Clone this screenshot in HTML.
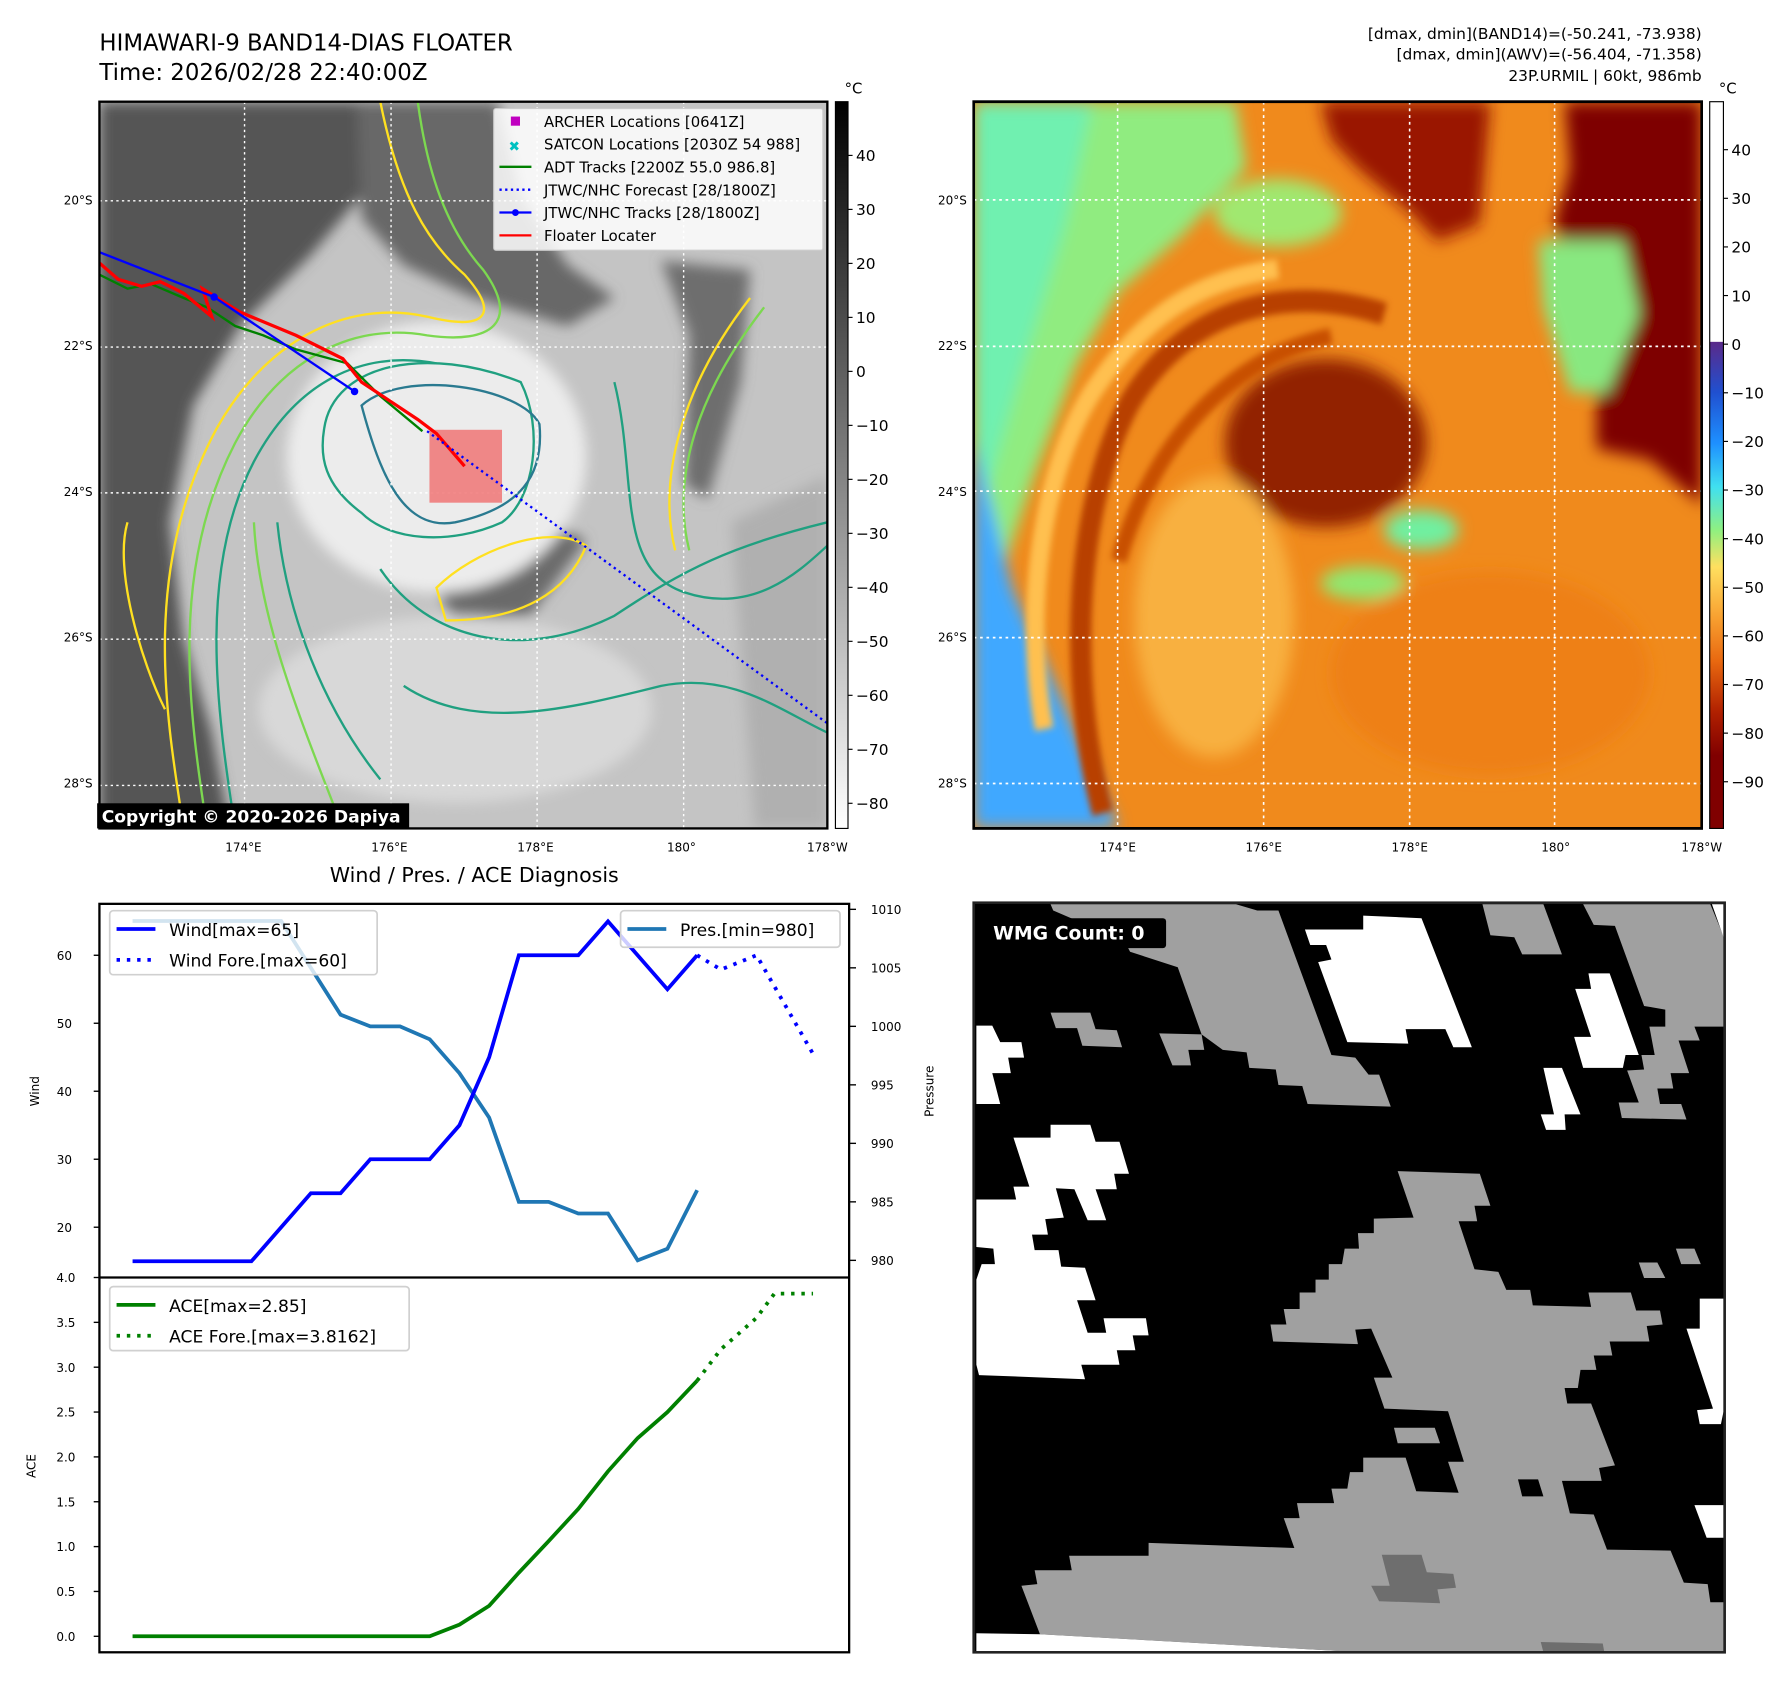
<!DOCTYPE html>
<html><head><meta charset="utf-8"><style>
html,body{margin:0;padding:0;background:#fff;}
svg{display:block;font-family:"DejaVu Sans","Liberation Sans",sans-serif;}
</style></head><body>
<svg id="root" width="1792" height="1690" viewBox="0 0 1568 1479" preserveAspectRatio="none" xmlns="http://www.w3.org/2000/svg">
<defs>
<filter id="b8" x="-20%" y="-20%" width="140%" height="140%"><feGaussianBlur stdDeviation="14"/></filter>
<filter id="b4" x="-20%" y="-20%" width="140%" height="140%"><feGaussianBlur stdDeviation="6"/></filter>
<clipPath id="c1"><rect x="0" y="0" width="1555" height="1555"/></clipPath>
<clipPath id="c2"><rect x="27" y="182" width="1371" height="1295"/></clipPath>
<linearGradient id="gcb1" x1="0" y1="0" x2="0" y2="1"><stop offset="0" stop-color="#000"/><stop offset="1" stop-color="#fff"/></linearGradient>
<linearGradient id="gcb2" x1="0" y1="0" x2="0" y2="1">
<stop offset="0" stop-color="#fff"/><stop offset="0.33" stop-color="#fff"/>
<stop offset="0.331" stop-color="#5a2a8a"/><stop offset="0.40" stop-color="#2050d0"/><stop offset="0.47" stop-color="#1e90ff"/><stop offset="0.53" stop-color="#40e0f0"/><stop offset="0.59" stop-color="#90f080"/><stop offset="0.64" stop-color="#ffe060"/><stop offset="0.71" stop-color="#f8a030"/><stop offset="0.77" stop-color="#e86810"/><stop offset="0.84" stop-color="#b02000"/><stop offset="0.90" stop-color="#800000"/><stop offset="1" stop-color="#800000"/>
</linearGradient>
</defs>

<!-- titles -->
<text x="87" y="44" font-size="20">HIMAWARI-9 BAND14-DIAS FLOATER</text>
<text x="87" y="70" font-size="20">Time: 2026/02/28 22:40:00Z</text>
<g font-size="13.5" text-anchor="end">
<text x="1489" y="34">[dmax, dmin](BAND14)=(-50.241, -73.938)</text>
<text x="1489" y="52">[dmax, dmin](AWV)=(-56.404, -71.358)</text>
<text x="1489" y="71">23P.URMIL | 60kt, 986mb</text>
</g>

<!-- MAP 1 -->
<g transform="translate(87,89) scale(0.4096,0.409)">
<g clip-path="url(#c1)">
<rect x="0" y="0" width="1555" height="1555" fill="#c4c4c4"/>
<g filter="url(#b8)">
<polygon points="0,0 550,0 560,200 450,330 300,480 200,650 150,900 180,1150 240,1350 280,1555 0,1555" fill="#555"/>
<polygon points="550,0 850,0 900,200 1000,350 1100,420 1000,480 800,420 650,350 560,250" fill="#676767"/>
<polygon points="1200,340 1390,360 1370,600 1300,850 1250,820 1260,500" fill="#6e6e6e"/>
<polygon points="720,1040 880,1000 960,900 1040,940 920,1100 760,1110" fill="#6a6a6a"/>
<ellipse cx="720" cy="760" rx="320" ry="290" fill="#ececec"/>
<ellipse cx="760" cy="1300" rx="420" ry="200" fill="#d8d8d8"/>
<polygon points="1350,900 1555,800 1555,1555 1400,1555" fill="#b0b0b0"/>
</g>
<g fill="none" stroke-width="5">
<path d="M180,1555 C140,1300 90,1000 250,700 C350,520 520,420 700,460 C820,490 860,460 780,370 C700,300 640,200 600,0" stroke="#ffe020"/>
<path d="M230,1555 C190,1300 150,1000 290,730 C380,560 530,470 700,500 C840,520 900,470 820,360 C740,270 700,150 680,0" stroke="#7cd850"/>
<path d="M290,1555 C250,1300 210,1000 330,770 C420,600 560,530 720,560" stroke="#20a080"/>
<path d="M1230,960 C1190,800 1250,600 1390,420" stroke="#ffe020"/>
<path d="M1260,960 C1220,800 1280,620 1420,440" stroke="#7cd850"/>
<path d="M480,700 C500,560 700,520 900,600 C950,700 930,850 860,900 C750,950 620,940 560,880 C480,820 470,760 480,700 Z" stroke="#20a080"/>
<path d="M560,650 C650,570 900,610 940,690 C950,800 900,870 760,900 C650,920 600,800 560,650 Z" stroke="#2a7a90"/>
<path d="M720,1040 C800,960 960,900 1040,950 C1000,1050 900,1110 740,1110 Z" stroke="#ffe020"/>
<path d="M600,1000 C700,1150 900,1200 1100,1100 C1250,1000 1350,950 1555,900" stroke="#20a080"/>
<path d="M650,1250 C800,1350 1000,1300 1200,1250 C1350,1220 1450,1300 1555,1350" stroke="#20a080"/>
<path d="M380,900 C400,1100 480,1300 600,1450" stroke="#20a080"/>
<path d="M330,900 C340,1100 420,1300 520,1555" stroke="#7cd850"/>
<path d="M1100,600 C1150,800 1100,1000 1250,1050 C1400,1100 1500,1000 1555,950" stroke="#20a080"/>
<path d="M60,900 C30,1000 90,1200 140,1300" stroke="#ffe020"/>
</g>
<g stroke="#fff" stroke-width="3" stroke-dasharray="5,7" fill="none">
<line x1="0" y1="212" x2="1555" y2="212"/><line x1="0" y1="525" x2="1555" y2="525"/><line x1="0" y1="837" x2="1555" y2="837"/><line x1="0" y1="1150" x2="1555" y2="1150"/><line x1="0" y1="1463" x2="1555" y2="1463"/>
<line x1="310" y1="0" x2="310" y2="1555"/><line x1="623" y1="0" x2="623" y2="1555"/><line x1="935" y1="0" x2="935" y2="1555"/><line x1="1248" y1="0" x2="1248" y2="1555"/>
</g>
<rect x="705" y="702" width="155" height="156" fill="rgba(240,110,110,0.8)"/>
<polyline points="0,370 60,400 110,390 180,420 230,440 290,480 350,500 420,530 530,560 600,630 690,705" fill="none" stroke="#008000" stroke-width="5"/>
<polyline points="0,345 40,380 90,395 130,385 180,410 240,460 220,400 300,450 420,500 520,550 560,600 620,640 680,680 720,710 780,780" fill="none" stroke="#ff0000" stroke-width="7"/>
<polyline points="0,322 245,418 545,620" fill="none" stroke="#0000ff" stroke-width="5"/>
<circle cx="245" cy="418" r="8" fill="#00f"/><circle cx="545" cy="620" r="8" fill="#00f"/>
<line x1="700" y1="705" x2="1555" y2="1330" stroke="#0000ff" stroke-width="5" stroke-dasharray="5,8"/>
</g>
<rect x="0" y="0" width="1555" height="1555" fill="none" stroke="#000" stroke-width="5"/>
</g>
<g>
<rect x="432" y="95" width="288" height="124" fill="rgba(255,255,255,0.85)" stroke="#ccc" rx="2"/>
<g font-size="13">
<rect x="447" y="102" width="8" height="8" fill="#c000c0"/><text x="476" y="111">ARCHER Locations [0641Z]</text>
<text x="445" y="132" fill="#00c0c0" font-size="12">✖</text><text x="476" y="131">SATCON Locations [2030Z 54 988]</text>
<line x1="437" y1="146" x2="465" y2="146" stroke="#008000" stroke-width="2"/><text x="476" y="151">ADT Tracks [2200Z 55.0 986.8]</text>
<line x1="437" y1="166" x2="465" y2="166" stroke="#00f" stroke-width="2" stroke-dasharray="2,3"/><text x="476" y="171">JTWC/NHC Forecast [28/1800Z]</text>
<line x1="437" y1="186" x2="465" y2="186" stroke="#00f" stroke-width="2"/><circle cx="451" cy="186" r="3" fill="#00f"/><text x="476" y="191">JTWC/NHC Tracks [28/1800Z]</text>
<line x1="437" y1="206" x2="465" y2="206" stroke="#f00" stroke-width="2"/><text x="476" y="211">Floater Locater</text>
</g></g>
<rect x="85" y="703" width="273" height="22" fill="#000"/>
<text x="89" y="720" font-size="15" font-weight="bold" fill="#fff">Copyright © 2020-2026 Dapiya</text>

<!-- colorbar 1 -->
<rect x="731" y="89" width="11" height="636" fill="url(#gcb1)" stroke="#000" stroke-width="1"/>
<text x="739" y="82" font-size="13">°C</text>
<g id="cb1ticks" font-size="13.5"></g>
<!-- colorbar 2 -->
<rect x="1496" y="89" width="12" height="636" fill="url(#gcb2)" stroke="#000" stroke-width="1"/>
<text x="1504" y="82" font-size="13">°C</text>
<g id="cb2ticks" font-size="13.5"></g>

<!-- MAP 2 -->
<g transform="translate(852,89) scale(0.4646,0.4911) translate(-27,-182)">
<g clip-path="url(#c2)">
<rect x="27" y="182" width="1371" height="1295" fill="#f08a1c"/>
<g filter="url(#b8)">
<polygon points="27,182 520,182 540,300 420,420 300,520 220,650 140,850 70,1050 27,1100" fill="#90ec80"/>
<polygon points="27,182 250,182 200,400 120,650 60,850 27,900" fill="#70f0b0"/>
<polygon points="27,780 60,900 100,1050 170,1200 240,1350 300,1477 27,1477" fill="#40a8ff"/>
<polygon points="1140,182 1398,182 1398,900 1300,820 1200,800 1200,700 1260,600 1180,520 1120,400 1150,300" fill="#7e0000"/>
<polygon points="680,182 1000,182 980,400 900,430 850,380 750,300 700,250" fill="#9a1800"/>
<polygon points="1090,430 1250,430 1280,560 1220,700 1150,700 1100,550" fill="#88e880"/>
<ellipse cx="690" cy="790" rx="190" ry="150" fill="#922000"/>
<ellipse cx="870" cy="945" rx="70" ry="35" fill="#70f0a0"/>
<ellipse cx="760" cy="1040" rx="80" ry="30" fill="#90e870"/>
<ellipse cx="600" cy="380" rx="120" ry="60" fill="#a0e870"/>
<ellipse cx="480" cy="1100" rx="150" ry="250" fill="#f8b040"/>
<ellipse cx="1000" cy="1200" rx="300" ry="180" fill="#ee8018"/>
</g>
<g fill="none" filter="url(#b4)">
<path d="M270,1450 C200,1200 220,900 320,720 C420,560 600,500 800,560" stroke="#b84000" stroke-width="40"/>
<path d="M160,1300 C120,1100 150,850 250,700 C350,560 450,500 600,480" stroke="#ffc050" stroke-width="35"/>
<path d="M300,1000 C360,800 500,640 700,600" stroke="#c85000" stroke-width="30"/>
</g>
</g>
<g stroke="#fff" stroke-width="3" stroke-dasharray="5,7" fill="none">
<line x1="27" y1="357" x2="1398" y2="357"/><line x1="27" y1="618" x2="1398" y2="618"/><line x1="27" y1="876" x2="1398" y2="876"/><line x1="27" y1="1137" x2="1398" y2="1137"/><line x1="27" y1="1397" x2="1398" y2="1397"/>
<line x1="298" y1="182" x2="298" y2="1477"/><line x1="573" y1="182" x2="573" y2="1477"/><line x1="848" y1="182" x2="848" y2="1477"/><line x1="1121" y1="182" x2="1121" y2="1477"/>
</g>
<rect x="27" y="182" width="1371" height="1295" fill="none" stroke="#000" stroke-width="5"/>
</g>

<g id="mapticks" font-size="10.5"></g>

<!-- BOTTOM RIGHT WMG -->
<g transform="translate(852,790) scale(0.4637,0.4518) translate(-25,-45)">
<rect x="25" y="45" width="1417" height="1452" fill="#000"/>
<g fill="#a0a0a0">
<polygon points="170,48 520,48 560,60 600,60 700,340 745,345 770,378 790,378 812,440 655,435 645,400 600,398 595,368 545,365 540,335 495,330 455,300 410,170 320,140 290,80 220,80 175,60"/>
<polygon points="985,48 1100,48 1135,145 1060,145 1045,112 1000,108"/>
<polygon points="1175,48 1415,48 1440,110 1440,285 1385,285 1395,312 1355,312 1375,375 1340,375 1345,405 1315,405 1320,435 1360,435 1370,465 1248,462 1242,432 1280,432 1258,370 1290,368 1285,340 1310,340 1300,285 1330,285 1330,252 1290,245 1235,90 1195,88"/>
<polygon points="170,258 245,258 255,290 295,292 305,325 230,322 220,288 180,288"/>
<polygon points="375,298 455,300 460,330 430,330 435,360 400,360"/>
<polygon points="825,565 980,570 1000,632 970,632 975,662 940,662 970,755 1015,760 1030,795 1075,795 1080,825 1190,828 1185,800 1265,800 1275,835 1320,835 1325,862 1295,865 1300,895 1225,895 1230,922 1195,922 1200,950 1170,950 1165,985 1140,985 1145,1015 1190,1015 1235,1135 1205,1140 1210,1165 1135,1165 1150,1228 1195,1230 1220,1298 1340,1300 1365,1362 1410,1365 1415,1400 1440,1400 1440,1497 760,1497 150,1462 115,1368 145,1365 140,1338 210,1338 205,1310 355,1310 355,1285 630,1295 610,1237 640,1237 635,1208 705,1208 700,1180 730,1180 735,1148 760,1148 760,1120 840,1120 860,1185 940,1188 920,1128 950,1128 920,1030 800,1025 780,965 815,965 775,870 745,872 750,900 590,895 585,862 615,862 610,832 640,832 640,800 670,800 670,775 695,775 695,745 720,745 725,715 752,715 750,685 780,685 780,657 855,655"/>
<polygon points="818,1062 895,1062 905,1092 825,1092"/>
<polygon points="1280,742 1315,742 1330,772 1290,772"/>
<polygon points="1350,715 1385,715 1397,745 1360,745"/>
</g>
<polygon points="1052,1162 1090,1162 1100,1195 1060,1195" fill="#000"/>
<polygon points="795,1308 870,1308 880,1342 930,1345 935,1372 900,1375 905,1402 790,1398 775,1368 810,1368" fill="#6e6e6e"/>
<polygon points="1095,1477 1212,1480 1215,1497 1100,1497" fill="#6e6e6e"/>
<g fill="#fff">
<polygon points="650,97 760,97 760,70 870,75 965,325 930,325 915,290 840,290 845,318 730,315 675,160 700,155 690,127 660,127"/>
<polygon points="1160,212 1190,212 1185,182 1225,182 1280,340 1255,340 1250,365 1175,365 1158,305 1190,305"/>
<polygon points="1100,365 1135,365 1170,455 1140,455 1142,485 1105,485 1095,455 1120,455"/>
<polygon points="30,283 60,283 75,315 115,315 120,345 90,345 95,375 60,375 75,435 30,435"/>
<polygon points="100,500 170,500 170,475 245,475 255,508 300,508 318,570 290,570 295,600 255,600 275,660 240,660 215,600 180,598 195,655 160,658 165,688 135,688 140,718 185,718 190,750 235,752 255,815 220,815 240,878 275,878 270,850 350,850 355,883 325,883 330,912 295,912 300,940 228,940 235,968 35,960 30,940 30,775 40,745 65,745 62,715 30,712 30,620 105,620 100,595 130,595"/>
<polygon points="1395,812 1440,812 1440,1030 1435,1055 1395,1055 1390,1028 1420,1025 1370,870 1395,870"/>
<polygon points="1385,1212 1440,1212 1440,1275 1408,1275"/>
<polygon points="30,1460 150,1462 760,1497 30,1497"/>
<polygon points="1418,48 1440,48 1440,112"/>
</g>
<rect x="25" y="45" width="1417" height="1452" fill="none" stroke="#222" stroke-width="5"/>
<rect x="40" y="75" width="348" height="58" rx="6" fill="#000"/>
</g>
<text x="869" y="822" font-size="16.5" font-weight="bold" fill="#fff">WMG Count: 0</text>

<!-- BOTTOM LEFT CHART -->
<text x="415" y="772" font-size="18" text-anchor="middle">Wind / Pres. / ACE Diagnosis</text>
<g id="chart"></g>
</svg>
<script>
// ---- chart data ----
const windX = [0,4,6,7,8,10,11,12,13,15,16,18,19];
const windVals = [15,15,25,25,30,30,35,45,60,60,65,55,60];
const windForeX = [19,19.8,21,22.9];
const windForeVals = [60,57.9,60,45.5];
const presX = [0,5,7,8,9,10,11,12,13,14,15,16,17,18,19];
const presVals = [1009,1009,1001,1000,1000,998.9,996,992.2,985,985,984,984,980,981,986];
const aceX = [0,10,11,12,13,14,15,16,17,18,19];
const aceVals = [0,0,0.13,0.34,0.71,1.06,1.42,1.84,2.21,2.5,2.85];
const aceForeX = [19,19.8,21,21.6,22.9];
const aceForeVals = [2.85,3.2,3.55,3.82,3.82];
const windTicks = [20,30,40,50,60];
const presTicks = [980,985,990,995,1000,1005,1010];
const aceTicks = [0.0,0.5,1.0,1.5,2.0,2.5,3.0,3.5,4.0];
const cb1Ticks = [40,30,20,10,0,-10,-20,-30,-40,-50,-60,-70,-80];
const cb2Ticks = [40,30,20,10,0,-10,-20,-30,-40,-50,-60,-70,-80,-90];
const latTicks = ['20°S','22°S','24°S','26°S','28°S'];
const lonTicks = ['174°E','176°E','178°E','180°','178°W'];

const NS='http://www.w3.org/2000/svg';
function mk(tag, attrs, parent){const e=document.createElementNS(NS,tag);for(const k in attrs)e.setAttribute(k,attrs[k]);parent.appendChild(e);return e;}
const xs = i => 116 + i*26;
const yWind = w => 836 - (w-60)*5.95;
const yPres = p => 1103 - (p-980)*10.24;
const yAce = a => 1432 - a*78.5;
const chart=document.getElementById('chart');

function line(xa, ya, ys, color, dash, name){
  const pts = xa.map((x,i)=>xs(x).toFixed(1)+','+ys(ya[i]).toFixed(1)).join(' ');
  const p=mk('polyline',{points:pts,fill:'none',stroke:color,'stroke-width':3.3},chart);
  if(dash){p.setAttribute('stroke-dasharray','3,6');}
  
  
}
line(presX,presVals,yPres,'#1f77b4',false,'pressure-line');
line(windX,windVals,yWind,'#0000ff',false,'wind-line');
line(windForeX,windForeVals,yWind,'#0000ff',true,'wind-forecast-line');
line(aceX,aceVals,yAce,'#008000',false,'ace-line');
line(aceForeX,aceForeVals,yAce,'#008000',true,'ace-forecast-line');

function txt(x,y,s,size,anchor,parent,rot){const t=mk('text',{x:x,y:y,'font-size':size,'text-anchor':anchor||'start'},parent);if(rot)t.setAttribute('transform','rotate(-90 '+x+' '+y+')');t.textContent=s;return t;}
windTicks.forEach(v=>{const y=yWind(v);
  const l=mk('line',{x1:82,y1:y,x2:87,y2:y,stroke:'#000','stroke-width':1.2},chart);
  
  
  const t=txt(63,y+4,String(v),10.5,'end',chart);
  
  });
presTicks.forEach(v=>{const y=yPres(v);
  const l=mk('line',{x1:743,y1:y,x2:749,y2:y,stroke:'#000','stroke-width':1.2},chart);
  
  
  const t=txt(762,y+4,String(v),10.5,'start',chart);
  
  });
aceTicks.forEach(v=>{const y=yAce(v);
  const l=mk('line',{x1:82,y1:y,x2:87,y2:y,stroke:'#000','stroke-width':1.2},chart);
  
  
  const t=txt(66,y+4,v.toFixed(1),10.5,'end',chart);
  
  });
let t;
t=txt(34,955,'Wind',10.5,'middle',chart,true);


t=txt(817,955,'Pressure',10.5,'middle',chart,true);


t=txt(31,1283,'ACE',10.5,'middle',chart,true);


let fr=mk('rect',{x:87,y:791,width:656,height:655,fill:'none',stroke:'#000','stroke-width':2},chart);


mk('line',{x1:87,y1:1118,x2:743,y2:1118,stroke:'#000','stroke-width':2},chart);

function legend(x,y,w,h,items,name){
  const g=mk('g',{},chart);
  
  
  mk('rect',{x:x,y:y,width:w,height:h,rx:3,fill:'rgba(255,255,255,0.8)',stroke:'#d0d0d0','stroke-width':1.5},g);
  items.forEach((it,i)=>{const yy=y+16+i*27;
    const l=mk('line',{x1:x+6,y1:yy,x2:x+40,y2:yy,stroke:it[1],'stroke-width':3.3},g);
    if(it[2])l.setAttribute('stroke-dasharray','3,6');
    txt(x+52,yy+6,it[0],15,'start',g);});
}
legend(96,797,234,56,[['Wind[max=65]','#0000ff',false],['Wind Fore.[max=60]','#0000ff',true]],'wind-legend');
legend(543,797,192,32,[['Pres.[min=980]','#1f77b4',false]],'pressure-legend');
legend(96,1126,262,56,[['ACE[max=2.85]','#008000',false],['ACE Fore.[max=3.8162]','#008000',true]],'ace-legend');

// colorbar ticks
const cb1=document.getElementById('cb1ticks');
cb1Ticks.forEach(v=>{const y=136+(40-v)*4.725;
  mk('line',{x1:742,y1:y,x2:746,y2:y,stroke:'#000'},cb1);
  const tt=txt(749,y+5,v<0?'\u2212'+(-v):String(v),13.5,'start',cb1);
  
  });
const cb2=document.getElementById('cb2ticks');
cb2Ticks.forEach(v=>{const y=131+(40-v)*4.255;
  mk('line',{x1:1508,y1:y,x2:1512,y2:y,stroke:'#000'},cb2);
  const tt=txt(1515,y+5,v<0?'\u2212'+(-v):String(v),13.5,'start',cb2);
  
  });

// map ticks
const mt=document.getElementById('mapticks');
[0,765].forEach(off=>{
  latTicks.forEach((s,i)=>{const y=175+i*127.5;
    const tt=txt(81+off,y+4,s,10.5,'end',mt);
    
    });
  lonTicks.forEach((s,i)=>{const x=213+i*127.75+off;
    const tt=txt(x,745,s,10.5,'middle',mt);
    
    });
});
</script>
</body></html>
